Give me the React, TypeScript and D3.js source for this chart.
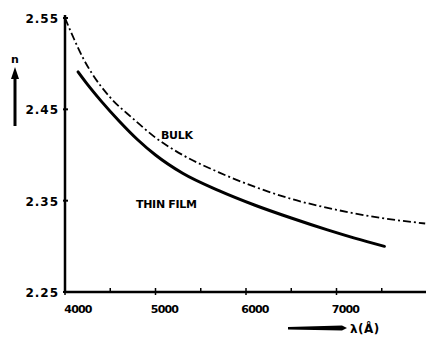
import React from "react";
import * as d3 from "d3";

// wavelength (Å) and refractive index
const lambdaThin = [4144, 4250, 4400, 4600, 4800, 5000, 5300, 5700, 6100, 6500, 6900, 7200, 7530];
const nThin = [2.491, 2.477, 2.459, 2.437, 2.417, 2.4, 2.38, 2.361, 2.345, 2.331, 2.318, 2.309, 2.3];

const lambdaBulk = [4000, 4100, 4200, 4300, 4500, 4750, 5000, 5300, 5700, 6100, 6500, 7000, 7500, 7980];
const nBulk = [2.55, 2.527, 2.506, 2.489, 2.463, 2.44, 2.419, 2.4, 2.381, 2.365, 2.352, 2.34, 2.331, 2.325];

const xTickMajor = [4000, 5000, 6000, 7000];
const xTickMinor = [4500, 5500, 6500, 7500];
const yTicks = [2.25, 2.35, 2.45, 2.55];
const yTickLabels = ["2.25", "2.35", "2.45", "2.55"];

const W = 426;
const H = 337;

export default function App() {
  const x = d3.scaleLinear().domain([4000, 8000]).range([65, 427]);
  const y = d3.scaleLinear().domain([2.25, 2.55]).range([292, 18]);

  const line = d3
    .line<[number, number]>()
    .x((d) => x(d[0]))
    .y((d) => y(d[1]))
    .curve(d3.curveMonotoneX);

  const thin = line(lambdaThin.map((l, i) => [l, nThin[i]]));
  const bulk = line(lambdaBulk.map((l, i) => [l, nBulk[i]]));

  const font = "'DejaVu Sans', sans-serif";

  return (
    <svg
      width={W}
      height={H}
      style={{ position: "absolute", left: 0, top: 0, background: "#fff" }}
    >
      {/* axes */}
      <line x1={x(4000)} x2={x(4000)} y1={15} y2={y(2.25) + 1} stroke="#000" strokeWidth={2.5} />
      <line x1={x(4000) - 1} x2={W} y1={y(2.25)} y2={y(2.25)} stroke="#000" strokeWidth={2.5} />

      {yTicks.map((t, i) => (
        <g key={t}>
          <line x1={x(4000) - 2} x2={x(4000) + 3} y1={y(t)} y2={y(t)} stroke="#000" strokeWidth={2} />
          <text
            x={59}
            y={y(t) + 5}
            textAnchor="end"
            fontFamily={font}
            fontWeight="bold"
            fontSize={12}
            letterSpacing={1}
          >
            {yTickLabels[i]}
          </text>
        </g>
      ))}

      {xTickMajor.map((t) => (
        <g key={t}>
          <line x1={x(t)} x2={x(t)} y1={y(2.25) - 4} y2={y(2.25) + 3} stroke="#000" strokeWidth={1.5} />
          <text
            x={t === 4000 ? x(t) + 13 : x(t) + 9}
            y={313}
            textAnchor="middle"
            fontFamily={font}
            fontWeight="bold"
            fontSize={11}
            letterSpacing={-0.8}
          >
            {t}
          </text>
        </g>
      ))}
      {xTickMinor.map((t) => (
        <line key={t} x1={x(t)} x2={x(t)} y1={y(2.25) - 4} y2={y(2.25)} stroke="#000" strokeWidth={1.5} />
      ))}

      {/* curves */}
      <path d={bulk ?? ""} fill="none" stroke="#000" strokeWidth={1.8} strokeDasharray="8 3 2 3" />
      <path d={thin ?? ""} fill="none" stroke="#000" strokeWidth={3} strokeLinecap="round" />

      <text x={161} y={139} fontFamily={font} fontWeight="bold" fontSize={11} letterSpacing={-0.3}>
        BULK
      </text>
      <text x={136} y={208} fontFamily={font} fontWeight="bold" fontSize={11} letterSpacing={-0.3}>
        THIN FILM
      </text>

      {/* n axis label with arrow */}
      <line x1={15} x2={15} y1={126} y2={76} stroke="#000" strokeWidth={3} />
      <path d="M15,67 L19,79 L11,79 Z" fill="#000" />
      <text x={15} y={63} textAnchor="middle" fontFamily={font} fontWeight="bold" fontSize={11}>
        n
      </text>

      {/* lambda axis label with arrow */}
      <path d="M288,327 L342,325.5 L347,328 L342,330.5 L288,329.5 Z" fill="#000" />
      <text x={350} y={333} fontFamily={font} fontWeight="bold" fontSize={12} letterSpacing={0.5}>
        λ(Å)
      </text>
    </svg>
  );
}
